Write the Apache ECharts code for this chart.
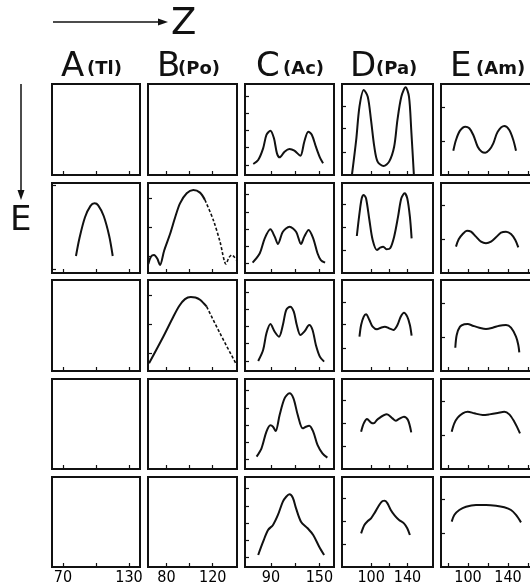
<!DOCTYPE html>
<html><head><meta charset="utf-8">
<script src="https://cdn.jsdelivr.net/npm/echarts@6/dist/echarts.min.js"></script>
<style>html,body{margin:0;padding:0;background:#fff}#c{width:530px;height:582px}</style>
</head><body><div id="c"></div>
<script>
// ---------- data ----------
const columns = ['A', 'B', 'C', 'D', 'E'];
const elements = ['(Tl)', '(Po)', '(Ac)', '(Pa)', '(Am)'];
const xMin = [60, 64, 58, 68, 73];
const xMax = [140, 141, 168, 168, 163];
const xTicks = [[70, 100, 130], [80, 100, 120], [90, 120, 150], [100, 120, 140], [80, 100, 120, 140, 160]];
const xTickLabels = [[70, 130], [80, 120], [90, 150], [100, 140], [100, 140]];
const yTicksA2 = [4, 97];
const yTicksB = [19, 51, 83];
const yTicksC = [11, 30, 49, 68, 87];
const yTicksD = [25.5, 51, 76];
const yTicksE = [37.5, 75];

const A2 = [[81.8,18.9],[85,38.9],[90,61.9],[95,74.6],[98.7,77.4],[102,75.2],[107,63.3],[112,41.1],[115.2,18.9]];
const B2 = [[64.3,10],[66.5,18],[69.2,20],[72,16],[74.4,8.9],[78,25],[83,43],[87.5,62],[91.7,77.4],[97.5,88.6],[103.2,92.2],[109,89.3],[113.3,81.1]];
const B2tail = [[113.3,81.1],[120.5,58.9],[126.3,34.8],[131.5,10],[134,17],[136.4,20],[138.5,18],[140.7,14]];
const B3 = [[64.9,8.5],[77.2,37.7],[85.9,59.7],[91,71.5],[96,79],[101,81.3],[105,80.8],[109,78.2],[114.8,70.7]];
const B3tail = [[114.8,70.7],[126.3,41.4],[140.7,6.6]];
const C1 = [[68.2,12.1],[74.3,16.5],[80.4,29.3],[84.5,44],[89.4,48.7],[93.8,40.3],[97.5,23.8],[100.8,19.4],[106.9,25.6],[113,28.6],[119.1,26.7],[126.4,21.2],[131.3,36.6],[136.2,47.6],[140.7,44],[145.6,31.1],[150.5,19.4],[154.5,12.8]];
const C2 = [[67.4,11.5],[76.3,21.9],[82.4,38.5],[89.4,48.5],[94.7,40.4],[98.7,32.2],[104.8,45.9],[113,51.5],[121.1,45.9],[127.2,32.2],[131.3,40.4],[136.6,47.8],[142.3,38.5],[147.6,21.9],[151.7,14.4],[157,11.5]];
const C3 = [[74.3,11],[80.4,23.1],[84.5,41.4],[89.4,51.6],[94.7,43.2],[100,37.7],[104.8,50.5],[108.9,67],[113.8,70.7],[118.3,65.2],[122,50.5],[126.4,39.6],[131.3,43.2],[137.4,50.5],[141.5,45.1],[145.6,28.6],[150.5,15.8],[155.8,10.3]];
const C4 = [[72.3,13.7],[78.4,23],[84.5,41.5],[89.4,48.5],[92.6,47],[95.9,42.2],[100.8,60],[106.9,78.5],[113,84.1],[117.9,78.5],[123.2,60],[129.3,45.2],[133.4,47],[137.4,48.1],[142.3,41.5],[147.6,26.7],[153.7,17.4],[159.8,12.6]];
const C5 = [[74.3,13.3],[80.4,28.1],[86.5,41.1],[92.6,46.7],[98.7,57.8],[104.8,72.6],[108.9,78.1],[113,80.7],[117.1,77],[121.1,65.2],[127.2,50.4],[135.4,43],[142.3,35.6],[149.7,22.6],[155.8,13.3]];
const D1 = [[78.9,0],[83.6,38.5],[87.2,75.1],[91.9,93.4],[96.3,86.1],[99.9,60.4],[103.5,31.1],[107.1,14.7],[113.7,9.9],[119.8,14.7],[125.3,31.1],[128.9,60.4],[133.2,86.1],[137.9,96.3],[141.6,86.1],[144.1,49.5],[147,0]];
const D2 = [[84.3,41.1],[87.2,66.3],[89.7,83],[91.9,86.7],[94.4,83],[98.1,58.9],[101.7,36.7],[106.4,25.6],[110,28.1],[113.3,29.3],[116.9,26.3],[120.9,27.4],[125.3,40.4],[129.6,62.6],[133.2,83],[136.8,88.5],[139.7,83],[142.6,62.6],[144.5,38.5]];
const D3 = [[87.2,37.7],[89,50.5],[91.9,59.7],[94.4,62.3],[98.1,56],[101.7,48.7],[106.4,45.8],[110.8,47.6],[115.1,48.7],[119.8,46.9],[124.5,45.1],[128.9,50.5],[132.5,59.7],[136.1,64.1],[139.7,59.7],[142.6,50.5],[144.5,38.8]];
const D4 = [[89,41.5],[91.9,50.7],[95.5,55.6],[99.9,51.5],[102.8,50.7],[107.1,55.2],[117.3,60.7],[123.4,56.3],[127.1,53.7],[130.7,55.6],[136.1,58.1],[140.5,54.4],[144.1,40.7]];
const D5 = [[89,37.4],[92.6,46.7],[96.3,51.1],[99.9,54.1],[104.2,60.7],[108.9,68.9],[112.6,73.3],[115.1,73.7],[118,70.7],[121.6,63.3],[126,57],[130.7,52.2],[136.1,48.5],[139.7,43],[142.6,35.6]];
const E1 = [[85.3,26.7],[88,38.5],[92,48.7],[97.3,53.1],[101.3,51.3],[105.3,44],[109.7,31.1],[113.7,25.6],[117.3,24.5],[121.3,27.5],[125.3,34.8],[129.7,47.6],[136.3,53.8],[141.3,49.5],[145.3,38.5],[148,26.7]];
const E2 = [[88,29.3],[90.7,37.4],[94.7,43.3],[99,47],[103,45.9],[108,40.4],[113,34.8],[118,33],[123,34.8],[128,39.6],[133,44.8],[138,45.9],[143,43.3],[147.3,36.7],[150.3,28.5]];
const E3 = [[87.3,25.6],[88.7,39.6],[92,48.7],[96.3,51.3],[99.7,51.6],[104.7,49.8],[111.3,47.6],[118,46.2],[124.7,47.6],[131.3,49.8],[138,50.5],[143,47.6],[148,37.7],[150.3,28.6],[151.3,20.5]];
const E4 = [[83.7,41.5],[86.3,50.7],[89.7,57],[94.7,61.9],[99.7,63.7],[106.3,61.9],[114.7,60],[121.3,60.7],[129.7,62.2],[136.3,63.7],[141.3,60.7],[146.3,52.6],[149.7,45.2],[152,39.6]];
const E5 = [[83.7,50.4],[86.3,57.8],[91.3,63.3],[98,67],[108,68.9],[118,68.9],[128,68.1],[136.3,66.3],[143,63.3],[148,57.8],[153,49.6]];

// ---------- layout ----------
const solid = [
  [null, null, C1, D1, E1],
  [A2, B2, C2, D2, E2],
  [null, B3, C3, D3, E3],
  [null, null, C4, D4, E4],
  [null, null, C5, D5, E5]
];
const dashedTail = [
  [null, null, null, null, null],
  [null, B2tail, null, null, null],
  [null, B3tail, null, null, null],
  [null, null, null, null, null],
  [null, null, null, null, null]
];
function yTicksFor(r, c) {
  if (c === 0) return r === 1 ? yTicksA2 : [];
  if (c === 1) return (r === 1 || r === 2) ? yTicksB : [];
  if (c === 2) return yTicksC;
  if (c === 3) return yTicksD;
  return yTicksE;
}
const colLeft = [52, 148, 245, 342, 441];
const colWidth = [88, 89, 89, 91, 90];
const rowTop = [84, 183, 280, 379, 477];
const rowHeight = [91, 90, 91, 90, 90];
const INK = '#111';
const labelFont = "'Liberation Sans Narrow', 'DejaVu Sans Condensed', 'Liberation Sans', sans-serif";
const titleFont = "'DejaVu Sans', sans-serif";

const grids = [], xAxes = [], yAxes = [], series = [];
for (let r = 0; r < 5; r++) {
  for (let c = 0; c < 5; c++) {
    const i = grids.length;
    grids.push({
      left: colLeft[c], top: rowTop[r], width: colWidth[c], height: rowHeight[r],
      show: true, borderColor: INK, borderWidth: 2, backgroundColor: 'transparent',
      containLabel: false, outerBoundsMode: 'none'
    });
    xAxes.push({
      type: 'value', gridIndex: i, min: xMin[c], max: xMax[c],
      axisLine: { show: false },
      axisTick: { show: true, inside: true, length: 4, customValues: xTicks[c], lineStyle: { color: INK, width: 1.2 } },
      axisLabel: { show: r === 4, customValues: xTickLabels[c], fontSize: 16, fontFamily: labelFont, color: '#000', margin: 3 },
      splitLine: { show: false }
    });
    const yt = yTicksFor(r, c);
    yAxes.push({
      type: 'value', gridIndex: i, min: 0, max: 100,
      axisLine: { show: false },
      axisTick: { show: yt.length > 0, inside: true, length: 4, customValues: yt, lineStyle: { color: INK, width: 1.2 } },
      axisLabel: { show: false },
      splitLine: { show: false }
    });
    if (solid[r][c]) {
      series.push({
        type: 'line', xAxisIndex: i, yAxisIndex: i, data: solid[r][c], smooth: 0.3,
        symbol: 'none', silent: true, lineStyle: { color: INK, width: 2 }
      });
    }
    if (dashedTail[r][c]) {
      series.push({
        type: 'line', xAxisIndex: i, yAxisIndex: i, data: dashedTail[r][c], smooth: 0.3,
        symbol: 'none', silent: true, lineStyle: { color: INK, width: 1.6, type: [3, 2] }
      });
    }
  }
}

const bigX = [61, 157, 256, 350, 450];
const smallX = [87, 178, 283, 376, 476];
const graphics = [];
for (let c = 0; c < 5; c++) {
  graphics.push({ type: 'text', left: bigX[c], top: 50, style: { text: columns[c], font: '34px ' + titleFont, fill: INK } });
  graphics.push({ type: 'text', left: smallX[c], top: 60, style: { text: elements[c], font: 'bold 18px ' + titleFont, fill: INK } });
}
// Z arrow
graphics.push({ type: 'line', shape: { x1: 53, y1: 22, x2: 161, y2: 22 }, style: { stroke: INK, lineWidth: 1.5 } });
graphics.push({ type: 'polygon', shape: { points: [[168, 22], [158, 18.5], [158, 25.5]] }, style: { fill: INK } });
graphics.push({ type: 'text', left: 171, top: 6, style: { text: 'Z', font: '37px ' + titleFont, fill: INK } });
// E arrow
graphics.push({ type: 'line', shape: { x1: 21, y1: 84, x2: 21, y2: 193 }, style: { stroke: INK, lineWidth: 1.5 } });
graphics.push({ type: 'polygon', shape: { points: [[21, 200], [17.5, 190], [24.5, 190]] }, style: { fill: INK } });
graphics.push({ type: 'text', left: 10, top: 204, style: { text: 'E', font: '34px ' + titleFont, fill: INK } });

const chart = echarts.init(document.getElementById('c'), null, { renderer: 'canvas' });
chart.setOption({
  animation: false,
  backgroundColor: '#fff',
  grid: grids, xAxis: xAxes, yAxis: yAxes, series: series,
  graphic: graphics
});
</script></body></html>
